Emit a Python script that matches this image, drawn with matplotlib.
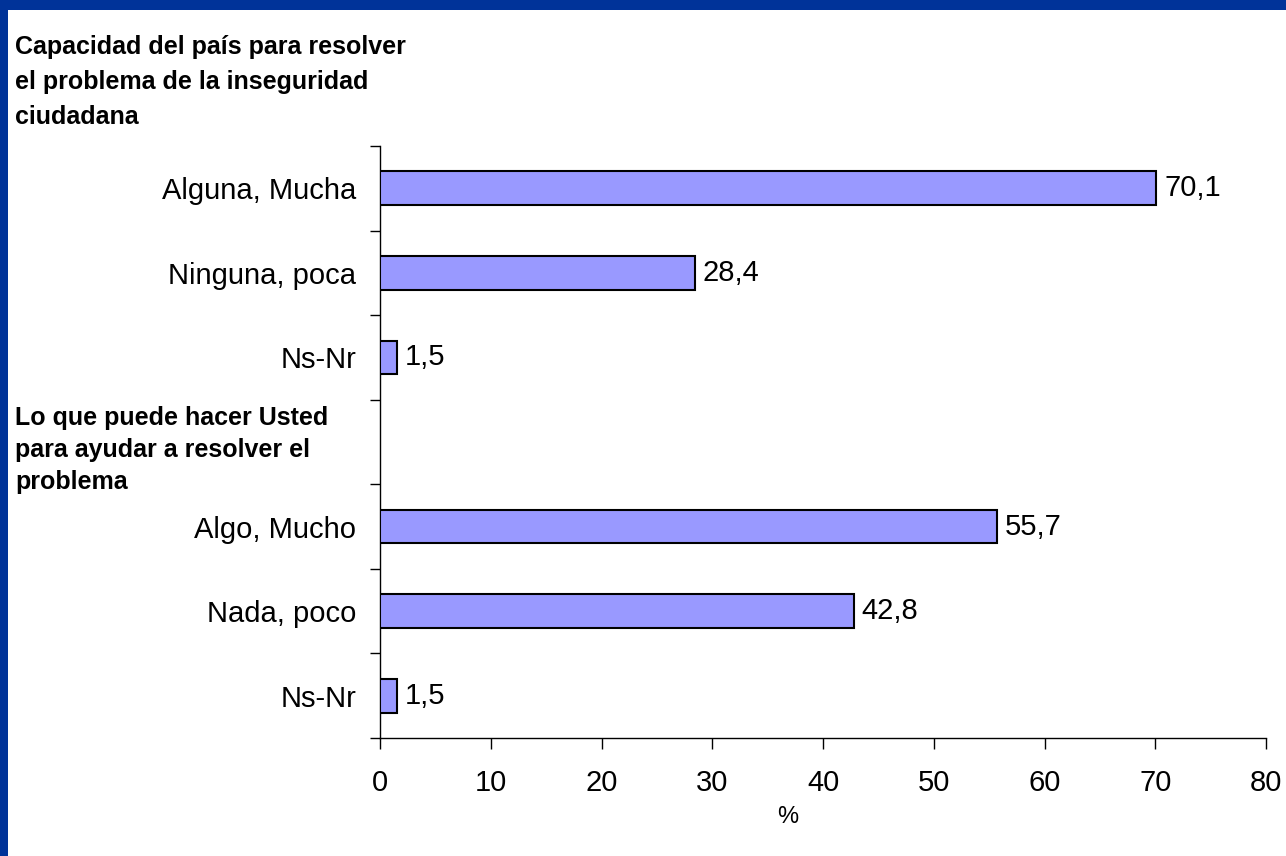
import matplotlib
matplotlib.use("Agg")
import matplotlib.pyplot as plt
from matplotlib.patches import Rectangle
from matplotlib.ticker import FixedLocator

categories = ["Alguna, Mucha", "Ninguna, poca", "Ns-Nr", "", "Algo, Mucho", "Nada, poco", "Ns-Nr"]
values = [70.1, 28.4, 1.5, None, 55.7, 42.8, 1.5]
group_titles = ["Capacidad del país para resolver\nel problema de la inseguridad\nciudadana",
                "Lo que puede hacer Usted\npara ayudar a resolver el\nproblema"]
xticks = [0, 10, 20, 30, 40, 50, 60, 70, 80]

plt.rcParams['font.family'] = ['Liberation Sans', 'DejaVu Sans']

W, H = 1286, 856
fig = plt.figure(figsize=(W / 100, H / 100), dpi=100)
fig.patch.set_facecolor("white")

# blue frame
border = "#003399"
fig.patches.append(Rectangle((0, 1 - 10 / H), 1, 10 / H, transform=fig.transFigure,
                             facecolor=border, edgecolor="none", zorder=0))
fig.patches.append(Rectangle((0, 0), 8 / W, 1, transform=fig.transFigure,
                             facecolor=border, edgecolor="none", zorder=0))

ax = fig.add_axes([380 / W, (H - 738) / H, (1266 - 380) / W, (738 - 146) / H])

ypos = list(range(len(categories)))
for y, v in zip(ypos, values):
    if v is None:
        continue
    ax.barh(y, v, height=0.4, color="#9999FF", edgecolor="black", linewidth=1.5, zorder=3)
    ax.text(v + 0.7, y, f"{v:.1f}".replace(".", ","), va="center", ha="left", fontsize=21)

ax.set_xlim(0, 80)
ax.set_ylim(6.5, -0.5)
ax.set_xticks(xticks)
ax.set_xticklabels([str(t) for t in xticks], fontsize=21)
ax.set_yticks(ypos)
ax.set_yticklabels(categories, fontsize=21)
ax.yaxis.set_minor_locator(FixedLocator([i - 0.5 for i in range(len(categories) + 1)]))
ax.tick_params(axis="y", which="major", length=0, pad=17)
ax.tick_params(axis="y", which="minor", length=7, width=1, direction="out")
ax.tick_params(axis="x", which="major", length=8, width=1, direction="out", pad=14)
for s in ["top", "right"]:
    ax.spines[s].set_visible(False)
for s in ["left", "bottom"]:
    ax.spines[s].set_linewidth(1)
ax.set_xlabel("%", fontsize=17)
ax.xaxis.set_label_coords((788 - 380) / 886, -(817 - 738) / 592)
ax.xaxis.label.set_verticalalignment("center")

# group titles
fig.text(15 / W, 1 - 35 / H, group_titles[0], ha="left", va="top", fontsize=18,
         fontweight="bold", linespacing=1.58)
fig.text(15 / W, 1 - 406 / H, group_titles[1], ha="left", va="top", fontsize=18,
         fontweight="bold", linespacing=1.42)

fig.savefig("out.png", dpi=100, facecolor="white")
